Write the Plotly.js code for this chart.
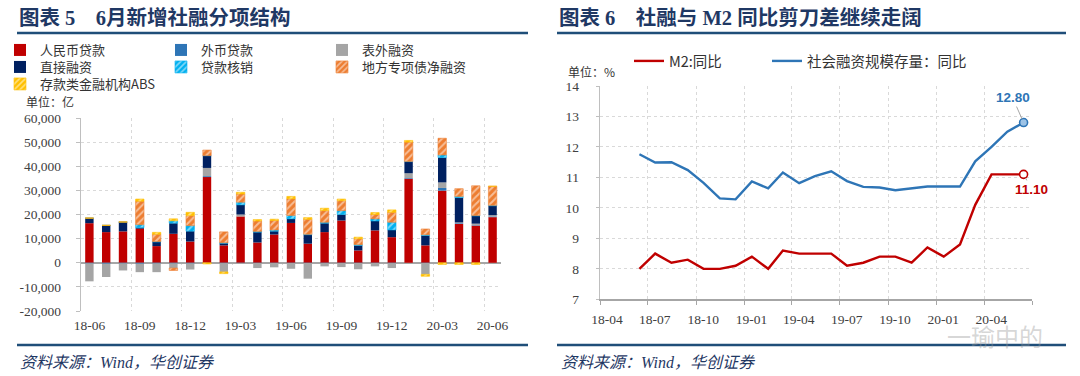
<!DOCTYPE html>
<html><head><meta charset="utf-8">
<script src="https://cdn.plot.ly/plotly-3.0.1.min.js"></script>
<style>html,body{margin:0;padding:0;background:#fff;}#chart{width:1080px;height:376px;}</style>
</head><body><div id="chart"></div>
<script>
// ---------- data ----------
const months = ["18-06","18-07","18-08","18-09","18-10","18-11","18-12","19-01","19-02","19-03","19-04","19-05","19-06","19-07","19-08","19-09","19-10","19-11","19-12","20-01","20-02","20-03","20-04","20-05","20-06"];
const rmbLoans   = [16400,12700,13000,14100,6900,12000,8800,35500,7200,19200,8400,11700,16500,7900,12700,17500,5100,13400,10600,34800,7200,29900,16100,15400,18900];
const fxLoans    = [-300,-400,-300,-400,-300,-300,-300,400,-200,-100,-100,-100,-100,-100,-200,-100,-100,-100,-200,300,-100,1100,300,200,300];
const offBalance = [-7400,-5500,-2900,-3500,-3600,-1900,-2500,3400,-3600,800,-2100,-1800,-2400,-6500,-1300,-1700,-2600,-1400,-2000,2000,-4700,2300,300,600,500];
const directFin  = [2100,2800,3900,500,1700,4400,4300,5100,900,4000,4300,1400,1700,3700,3700,2500,2100,3900,3000,4800,4100,10300,10300,3200,3900];
const writeOffs  = [0,0,0,1200,200,1000,2300,0,200,1100,300,500,1400,200,400,1600,300,900,3200,100,300,1100,500,200,200];
const specialBonds = [0,0,0,9700,3000,-1000,4100,2300,4500,3400,4300,3900,6900,6200,4800,4100,2400,1800,4100,8000,2400,6900,3200,12300,7900];
const depositABS = [0,0,0,900,800,800,1400,-500,-700,700,600,550,1000,700,1000,700,700,800,1000,700,-800,-700,-700,-700,0];
const barNames = ["人民币贷款","外币贷款","表外融资","直接融资","贷款核销","地方专项债净融资","存款类金融机构ABS"];
const yTickVals = [-20000,-10000,0,10000,20000,30000,40000,50000,60000];
const yTickText = ["-20,000","-10,000","0","10,000","20,000","30,000","40,000","50,000","60,000"];

const m2Yoy  = [8.0,8.5,8.2,8.3,8.0,8.0,8.1,8.4,8.0,8.6,8.5,8.5,8.5,8.1,8.2,8.4,8.4,8.2,8.7,8.4,8.8,10.1,11.1,11.1,11.1];
const tsfYoy = [11.76,11.49,11.5,11.24,10.82,10.31,10.28,10.87,10.64,11.16,10.81,11.04,11.2,10.88,10.69,10.67,10.58,10.65,10.7,10.7,10.7,11.53,12.0,12.5,12.8];
const lineNames = ["M2:同比","社会融资规模存量：同比"];
const rightTickLabels = ["18-04","18-07","18-10","19-01","19-04","19-07","19-10","20-01","20-04"];

// ---------- helpers ----------
const W = 1080, H = 376;
const fx = p => p / W, fy = p => 1 - p / H;
const CJK = "Noto Sans CJK SC";
const SERIF = "Liberation Serif, Noto Sans CJK SC";
const GRID = "#D9D9D9", AXIS = "#A6A6A6", TXT = "#404040";

// ---------- bar traces ----------
const barSeries = [rmbLoans, fxLoans, offBalance, directFin, writeOffs, specialBonds, depositABS];
const barColors = ["#C00000","#2E75B6","#A5A5A5","#002060","#00B0F0","#ED7D31","#FFC000"];
const hatched = [false,false,false,false,true,true,true];
const legendOf = ["legend","legend","legend","legend2","legend2","legend2","legend3"];
const traces = barSeries.map((vals, i) => {
  const marker = {color: barColors[i], line: {width: hatched[i] ? 0.6 : 0, color: barColors[i]}};
  if (hatched[i]) marker.pattern = {shape: "/", fillmode: "overlay", fgcolor: "#FFFFFF", size: 5, solidity: 0.4};
  return {type: "bar", name: barNames[i], x: months, y: vals, marker, xaxis: "x", yaxis: "y",
          legend: legendOf[i], hoverinfo: "skip"};
});

// ---------- line traces ----------
const lineDates = months.map(m => "20" + m + "-15");
const lineColors = ["#C00000", "#2E75B6"];
const lineVals = [m2Yoy, tsfYoy];
const lineLegends = ["legend4", "legend5"];
lineVals.forEach((vals, i) => {
  traces.push({type: "scatter", mode: "lines", name: lineNames[i], x: lineDates, y: vals,
    line: {color: lineColors[i], width: 2.4}, xaxis: "x2", yaxis: "y2", legend: lineLegends[i], hoverinfo: "skip"});
});
const endFill = ["#FFFFFF", "#9DC3E6"];
lineVals.forEach((vals, i) => {
  traces.push({type: "scatter", mode: "markers", x: [lineDates[lineDates.length-1]], y: [vals[vals.length-1]],
    marker: {size: 8, color: endFill[i], line: {color: lineColors[i], width: 1.6}},
    xaxis: "x2", yaxis: "y2", showlegend: false, hoverinfo: "skip"});
});

// ---------- layout ----------
const rightTickVals = rightTickLabels.map(t => "20" + t + "-01").concat(["2020-07-01"]);
const rightTickText = rightTickLabels.concat([""]);

const legendBase = {orientation: "h", xanchor: "left", yanchor: "middle", bgcolor: "rgba(0,0,0,0)",
  font: {family: CJK, size: 13, color: "#333"}, entrywidthmode: "pixels", itemclick: false, itemdoubleclick: false};

const lastM2 = m2Yoy[m2Yoy.length-1], lastTsf = tsfYoy[tsfYoy.length-1], lastDate = lineDates[lineDates.length-1];

const layout = {
  width: W, height: H, margin: {l: 0, r: 0, t: 0, b: 0},
  paper_bgcolor: "#fff", plot_bgcolor: "rgba(0,0,0,0)",
  barmode: "relative", bargap: 0.5, showlegend: true,
  xaxis: {domain: [fx(81), fx(501)], anchor: "y", type: "category", range: [-0.5, 24.5],
    tickmode: "linear", tick0: 0, dtick: 3, tickson: "boundaries", tickangle: 0,
    showgrid: true, gridcolor: GRID, griddash: "dot", gridwidth: 1,
    ticks: "", showline: false, zeroline: false,
    tickfont: {family: SERIF, size: 13.5, color: TXT}, ticklabelstandoff: 4},
  yaxis: {domain: [fy(311), fy(118)], anchor: "x", range: [-20000, 60000],
    tickmode: "array", tickvals: yTickVals, ticktext: yTickText,
    showgrid: true, gridcolor: GRID, griddash: "dot",
    zeroline: true, zerolinecolor: AXIS, zerolinewidth: 1.5,
    showline: true, linecolor: "#BFBFBF", linewidth: 1.2, ticks: "outside", ticklen: 4, tickcolor: "#BFBFBF",
    tickfont: {family: SERIF, size: 13.5, color: TXT}, ticklabelstandoff: 12},
  xaxis2: {domain: [fx(600), fx(1032)], anchor: "y2", type: "date", range: ["2018-04-01", "2020-07-01"],
    tickmode: "array", tickvals: rightTickVals, ticktext: rightTickText, tickangle: 0,
    showgrid: true, gridcolor: GRID, griddash: "dot",
    showline: true, linecolor: AXIS, linewidth: 1.2, ticks: "outside", ticklen: 4, tickcolor: AXIS,
    tickfont: {family: SERIF, size: 13.5, color: TXT}, ticklabelshift: 7, ticklabelstandoff: 3, zeroline: false},
  yaxis2: {domain: [fy(299.3), fy(86)], anchor: "x2", range: [7, 14], dtick: 1,
    showgrid: true, gridcolor: GRID, griddash: "dot", zeroline: false,
    showline: true, linecolor: "#BFBFBF", linewidth: 1.2, ticks: "outside", ticklen: 3, tickcolor: "#BFBFBF",
    tickfont: {family: SERIF, size: 13.5, color: TXT}, ticklabelstandoff: 14},
  legend:  Object.assign({}, legendBase, {x: fx(0), y: fy(50), entrywidth: 116}),
  legend2: Object.assign({}, legendBase, {x: fx(0), y: fy(67), entrywidth: 116}),
  legend3: Object.assign({}, legendBase, {x: fx(0), y: fy(84), entrywidth: 116}),
  legend4: Object.assign({}, legendBase, {x: fx(629), y: fy(61), font: {family: CJK, size: 14.5, color: "#333"}}),
  legend5: Object.assign({}, legendBase, {x: fx(767), y: fy(61), font: {family: CJK, size: 14.5, color: "#333"}}),
  shapes: [
    {type: "line", xref: "paper", yref: "paper", x0: fx(17), x1: fx(528), y0: fy(33), y1: fy(33), line: {color: "#1F4E79", width: 2.5}},
    {type: "line", xref: "paper", yref: "paper", x0: fx(557), x1: fx(1066), y0: fy(33), y1: fy(33), line: {color: "#1F4E79", width: 2.5}},
    {type: "line", xref: "paper", yref: "paper", x0: fx(17), x1: fx(528), y0: fy(345), y1: fy(345), line: {color: "#1F4E79", width: 2.5}},
    {type: "line", xref: "paper", yref: "paper", x0: fx(557), x1: fx(1066), y0: fy(345), y1: fy(345), line: {color: "#1F4E79", width: 2.5}}
  ],
  annotations: [
    {xref: "paper", yref: "paper", x: fx(17), y: fy(17), xanchor: "left", yanchor: "middle", showarrow: false,
     text: "<b>图表\u00A05\u00A0\u00A0\u00A0\u00A06月新增社融分项结构</b>", font: {family: SERIF, size: 20.5, color: "#1F3864"}},
    {xref: "paper", yref: "paper", x: fx(557), y: fy(17), xanchor: "left", yanchor: "middle", showarrow: false,
     text: "<b>图表\u00A06\u00A0\u00A0\u00A0\u00A0社融与\u00A0M2\u00A0同比剪刀差继续走阔</b>", font: {family: SERIF, size: 20.5, color: "#1F3864"}},
    {xref: "paper", yref: "paper", x: fx(24), y: fy(101.5), xanchor: "left", yanchor: "middle", showarrow: false,
     text: "单位：亿", font: {family: CJK, size: 12, color: "#333"}},
    {xref: "paper", yref: "paper", x: fx(566), y: fy(72), xanchor: "left", yanchor: "middle", showarrow: false,
     text: "单位：%", font: {family: CJK, size: 12, color: "#333"}},
    {xref: "paper", yref: "paper", x: fx(18), y: fy(362), xanchor: "left", yanchor: "middle", showarrow: false,
     text: "<i>资料来源：Wind，华创证券</i>", font: {family: SERIF, size: 16, color: "#1F3864"}},
    {xref: "paper", yref: "paper", x: fx(559), y: fy(362), xanchor: "left", yanchor: "middle", showarrow: false,
     text: "<i>资料来源：Wind，华创证券</i>", font: {family: SERIF, size: 16, color: "#1F3864"}},
    {xref: "x2", yref: "y2", x: lastDate, y: lastTsf, text: "<b>" + lastTsf.toFixed(2) + "</b>",
     showarrow: true, arrowhead: 0, arrowwidth: 1, arrowcolor: "#A6A6A6", ax: -11, ay: -25, standoff: 4,
     font: {family: "Liberation Sans", size: 13.5, color: "#2E75B6"}},
    {xref: "x2", yref: "y2", x: lastDate, y: lastM2, text: "<b>" + lastM2.toFixed(2) + "</b>",
     showarrow: true, arrowhead: 0, arrowwidth: 1, arrowcolor: "#A6A6A6", ax: 8, ay: 15, standoff: 4,
     font: {family: "Liberation Sans", size: 13.5, color: "#C00000"}},
    {xref: "paper", yref: "paper", x: fx(995), y: fy(335), xanchor: "center", yanchor: "middle", showarrow: false,
     text: "一瑜中的", font: {family: CJK, size: 24, color: "rgba(150,150,150,0.4)"}}
  ]
};

Plotly.newPlot("chart", traces, layout, {staticPlot: true, displayModeBar: false});
</script></body></html>
